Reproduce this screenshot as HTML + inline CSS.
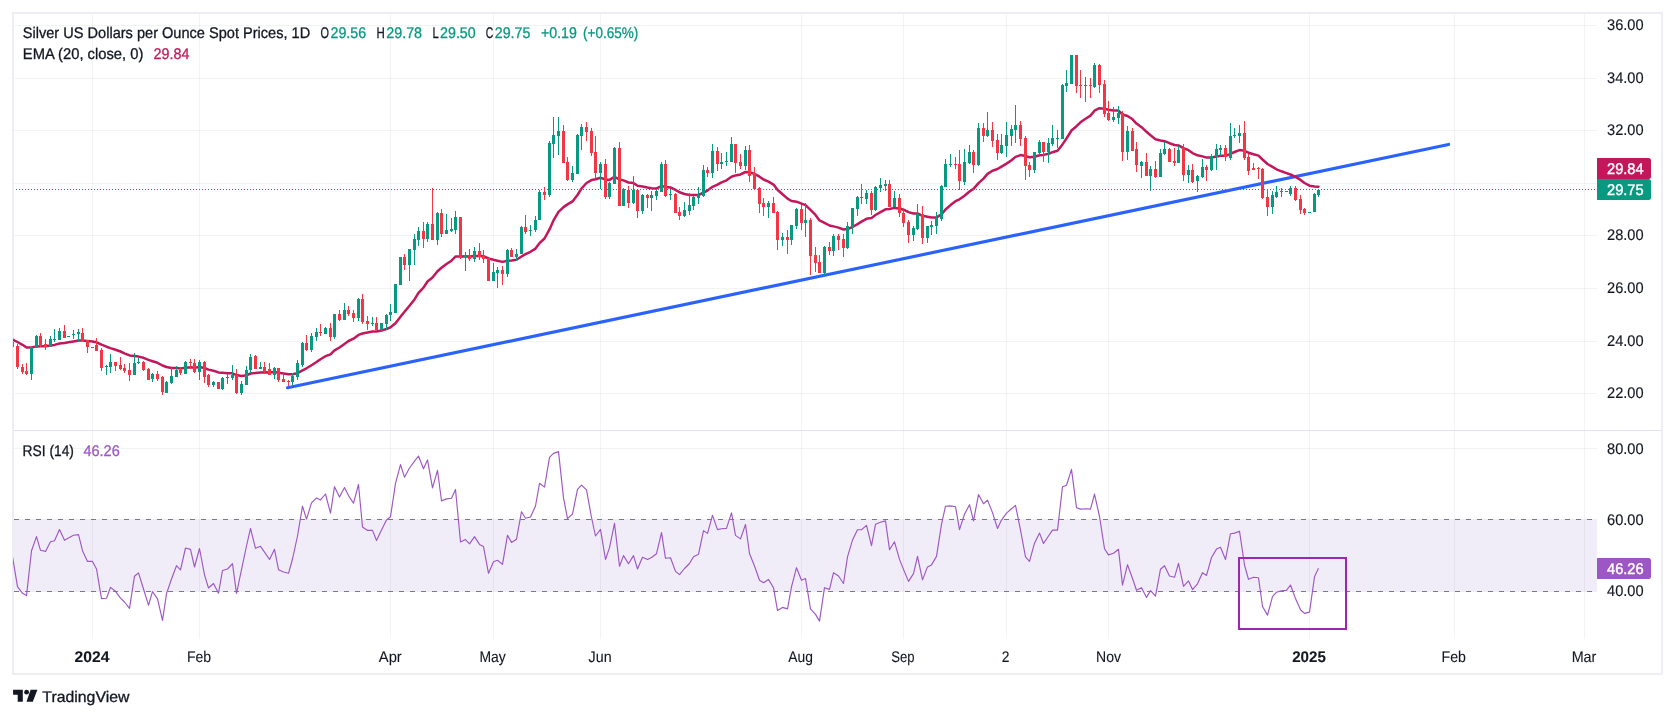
<!DOCTYPE html>
<html><head><meta charset="utf-8"><title>Silver chart</title>
<style>
html,body{margin:0;padding:0;background:#fff;}
body{width:1675px;height:718px;overflow:hidden;font-family:"Liberation Sans",sans-serif;}
svg{display:block;will-change:transform;}
text{font-family:"Liberation Sans",sans-serif;}
</style></head><body>
<svg width="1675" height="718" viewBox="0 0 1675 718" text-rendering="geometricPrecision">
<rect x="0" y="0" width="1675" height="718" fill="#ffffff"/>

<defs><clipPath id="plot"><rect x="14" y="14" width="1583" height="625"/></clipPath><clipPath id="main"><rect x="13" y="14" width="1584" height="416"/></clipPath><clipPath id="rsi"><rect x="13" y="431" width="1584" height="208"/></clipPath></defs>
<rect x="13" y="13" width="1649" height="661" fill="none" stroke="#eceef3" stroke-width="2" shape-rendering="crispEdges"/>
<rect x="14" y="519" width="1583" height="73" fill="#f1edf8" shape-rendering="crispEdges"/>
<path d="M92 14h1v625h-1zM199 14h1v625h-1zM390 14h1v625h-1zM493 14h1v625h-1zM600 14h1v625h-1zM801 14h1v625h-1zM903 14h1v625h-1zM1006 14h1v625h-1zM1108 14h1v625h-1zM1309 14h1v625h-1zM1454 14h1v625h-1zM1584 14h1v625h-1z" fill="#2a2e39" fill-opacity="0.06" shape-rendering="crispEdges"/>
<path d="M14 25h1583v1h-1583zM14 78h1583v1h-1583zM14 130h1583v1h-1583zM14 183h1583v1h-1583zM14 235h1583v1h-1583zM14 288h1583v1h-1583zM14 341h1583v1h-1583zM14 393h1583v1h-1583zM14 448h1583v1h-1583z" fill="#2a2e39" fill-opacity="0.06" shape-rendering="crispEdges"/>
<line x1="14" y1="519.5" x2="1597" y2="519.5" stroke="#787b86" stroke-width="1" stroke-dasharray="5 6" shape-rendering="crispEdges"/>
<line x1="14" y1="591.5" x2="1597" y2="591.5" stroke="#787b86" stroke-width="1" stroke-dasharray="5 6" shape-rendering="crispEdges"/>
<rect x="14" y="430" width="1647" height="1" fill="#e0e3eb" shape-rendering="crispEdges"/>
<line x1="287.5" y1="387.8" x2="1448.6" y2="144.4" stroke="#2962ff" stroke-width="3.1" stroke-linecap="round"/>
<polyline clip-path="url(#main)" points="12.5,339.5 17.5,342.0 22.5,344.8 26.5,347.6 31.5,347.5 36.5,346.4 40.5,346.3 45.5,346.3 50.5,345.6 54.5,344.9 59.5,343.5 64.5,343.0 68.5,342.3 73.5,341.4 78.5,340.5 82.5,340.5 87.5,341.0 92.5,341.5 96.5,342.3 101.5,344.7 106.5,346.7 110.5,348.1 115.5,349.7 120.5,351.5 124.5,353.3 129.5,355.4 134.5,356.0 138.5,356.6 143.5,357.8 148.5,359.9 152.5,361.2 157.5,362.8 162.5,365.5 166.5,367.0 171.5,367.9 176.5,368.0 180.5,368.4 185.5,367.8 190.5,367.3 194.5,367.7 199.5,367.1 204.5,368.0 208.5,369.6 213.5,370.7 218.5,372.4 222.5,372.8 227.5,373.2 232.5,373.3 236.5,375.1 241.5,375.9 246.5,375.3 250.5,373.5 255.5,373.0 260.5,372.4 264.5,372.2 269.5,372.4 274.5,371.9 278.5,372.7 283.5,373.5 288.5,374.2 292.5,374.3 297.5,373.2 302.5,370.3 306.5,368.3 311.5,365.2 316.5,362.0 320.5,359.2 325.5,356.2 330.5,354.3 334.5,350.4 339.5,347.5 344.5,343.9 348.5,341.0 353.5,338.7 358.5,334.9 362.5,333.5 367.5,332.6 372.5,331.6 376.5,331.4 381.5,330.5 386.5,329.0 390.5,327.3 395.5,323.2 400.5,316.8 404.5,311.8 409.5,305.8 414.5,299.4 418.5,292.9 423.5,287.6 427.5,281.5 432.5,277.5 437.5,271.3 441.5,267.7 446.5,264.0 451.5,260.7 455.5,256.5 460.5,256.5 465.5,256.3 469.5,256.5 474.5,256.0 479.5,256.0 483.5,256.2 488.5,258.5 493.5,259.8 497.5,260.7 502.5,261.9 507.5,260.7 511.5,260.4 516.5,259.7 521.5,256.5 525.5,254.1 530.5,251.8 535.5,248.6 539.5,243.2 544.5,238.5 549.5,229.4 553.5,220.4 558.5,211.8 563.5,207.1 567.5,204.4 572.5,201.4 577.5,195.0 581.5,188.5 586.5,183.0 591.5,180.1 595.5,179.3 600.5,177.8 605.5,179.6 609.5,179.9 614.5,176.8 619.5,179.5 623.5,180.4 628.5,182.5 633.5,183.1 637.5,185.7 642.5,186.5 647.5,187.5 651.5,188.2 656.5,188.4 661.5,186.1 665.5,186.9 670.5,187.5 675.5,189.9 679.5,192.3 684.5,194.0 689.5,195.0 693.5,195.1 698.5,195.0 703.5,192.6 707.5,190.6 712.5,186.8 717.5,184.6 721.5,182.4 726.5,180.3 731.5,176.8 735.5,175.4 740.5,174.4 745.5,172.0 749.5,172.3 754.5,173.9 759.5,176.7 763.5,179.5 768.5,181.7 773.5,184.6 777.5,189.8 782.5,194.3 787.5,198.6 791.5,201.0 796.5,201.7 801.5,203.7 805.5,205.2 810.5,209.9 815.5,214.9 819.5,220.4 824.5,222.8 829.5,225.5 833.5,226.4 838.5,227.6 843.5,229.5 847.5,229.1 852.5,227.0 857.5,224.1 861.5,221.6 866.5,218.8 871.5,217.9 875.5,215.0 880.5,212.1 885.5,209.3 889.5,209.0 894.5,207.9 899.5,208.4 903.5,209.7 908.5,212.1 913.5,213.5 917.5,213.5 922.5,215.8 927.5,216.7 931.5,217.4 936.5,217.4 941.5,214.4 945.5,209.5 950.5,205.1 955.5,201.2 959.5,199.3 964.5,195.7 969.5,191.5 973.5,188.9 978.5,183.1 983.5,178.6 987.5,173.9 992.5,170.7 997.5,169.0 1001.5,166.6 1006.5,163.6 1011.5,160.3 1015.5,156.9 1020.5,155.1 1025.5,156.1 1029.5,157.3 1034.5,156.8 1039.5,155.3 1043.5,154.9 1048.5,153.8 1052.5,152.2 1057.5,150.8 1062.5,144.4 1066.5,138.5 1071.5,130.5 1076.5,126.2 1080.5,122.3 1085.5,118.7 1090.5,115.6 1094.5,110.7 1099.5,108.2 1104.5,108.7 1108.5,109.7 1113.5,110.4 1118.5,110.6 1122.5,114.5 1127.5,116.0 1132.5,119.3 1136.5,123.6 1141.5,127.2 1146.5,131.8 1150.5,135.3 1155.5,139.2 1160.5,140.5 1164.5,141.2 1169.5,143.2 1174.5,145.0 1178.5,145.4 1183.5,148.2 1188.5,150.2 1192.5,153.1 1197.5,155.3 1202.5,156.4 1206.5,157.6 1211.5,157.4 1216.5,156.6 1220.5,155.7 1225.5,155.8 1230.5,153.8 1234.5,152.0 1239.5,150.1 1244.5,150.8 1248.5,152.7 1253.5,154.2 1258.5,155.6 1262.5,159.5 1267.5,164.0 1272.5,166.9 1276.5,169.3 1281.5,171.3 1286.5,173.1 1290.5,174.5 1295.5,176.9 1300.5,179.9 1304.5,183.0 1309.5,185.7 1314.5,186.4 1318.5,186.7" fill="none" stroke="#c2185b" stroke-width="2.5" stroke-linejoin="round" stroke-linecap="round"/>
<g clip-path="url(#main)" shape-rendering="crispEdges"><path d="M12 342h1v5h-1zM11 342h3v5h-3zM17 344h1v25h-1zM16 346h3v21h-3zM22 364h1v10h-1zM21 367h3v5h-3zM26 363h1v12h-1zM25 371h3v3h-3zM40 333h1v14h-1zM39 336h3v10h-3zM45 339h1v11h-1zM44 344h3v3h-3zM64 325h1v13h-1zM63 331h3v7h-3zM82 328h1v13h-1zM81 333h3v8h-3zM87 340h1v13h-1zM86 340h3v7h-3zM96 338h1v13h-1zM95 345h3v6h-3zM101 348h1v23h-1zM100 350h3v18h-3zM115 362h1v9h-1zM114 362h3v4h-3zM120 357h1v13h-1zM119 365h3v4h-3zM124 364h1v9h-1zM123 368h3v3h-3zM129 363h1v18h-1zM128 370h3v5h-3zM143 361h1v10h-1zM142 362h3v8h-3zM148 368h1v12h-1zM147 369h3v11h-3zM157 371h1v10h-1zM156 374h3v5h-3zM162 376h1v19h-1zM161 377h3v15h-3zM180 368h1v7h-1zM179 370h3v3h-3zM190 359h1v10h-1zM189 362h3v1h-3zM194 359h1v14h-1zM193 363h3v9h-3zM204 361h1v22h-1zM203 362h3v15h-3zM208 374h1v13h-1zM207 375h3v10h-3zM218 382h1v7h-1zM217 382h3v7h-3zM236 369h1v25h-1zM235 375h3v18h-3zM255 355h1v14h-1zM254 356h3v13h-3zM264 362h1v12h-1zM263 367h3v5h-3zM269 363h1v12h-1zM268 369h3v6h-3zM278 368h1v14h-1zM277 368h3v12h-3zM283 375h1v7h-1zM282 379h3v3h-3zM288 380h1v6h-1zM287 381h3v1h-3zM306 335h1v16h-1zM305 343h3v7h-3zM320 324h1v12h-1zM319 332h3v1h-3zM330 323h1v18h-1zM329 328h3v9h-3zM339 310h1v11h-1zM338 314h3v6h-3zM348 306h1v10h-1zM347 310h3v4h-3zM353 310h1v12h-1zM352 313h3v5h-3zM362 294h1v30h-1zM361 299h3v23h-3zM367 316h1v14h-1zM366 321h3v3h-3zM376 317h1v13h-1zM375 323h3v7h-3zM404 254h1v16h-1zM403 257h3v8h-3zM423 222h1v26h-1zM422 231h3v8h-3zM432 188h1v52h-1zM431 224h3v16h-3zM441 209h1v28h-1zM440 213h3v21h-3zM460 217h1v42h-1zM459 217h3v41h-3zM469 249h1v12h-1zM468 255h3v4h-3zM479 243h1v17h-1zM478 251h3v6h-3zM483 250h1v13h-1zM482 256h3v3h-3zM488 258h1v23h-1zM487 258h3v23h-3zM502 266h1v19h-1zM501 270h3v4h-3zM511 248h1v9h-1zM510 250h3v7h-3zM525 215h1v19h-1zM524 227h3v5h-3zM544 187h1v13h-1zM543 192h3v3h-3zM563 125h1v38h-1zM562 131h3v32h-3zM567 157h1v24h-1zM566 162h3v18h-3zM586 122h1v19h-1zM585 127h3v5h-3zM591 128h1v28h-1zM590 131h3v22h-3zM595 136h1v42h-1zM594 152h3v21h-3zM605 159h1v40h-1zM604 164h3v33h-3zM619 142h1v64h-1zM618 148h3v58h-3zM628 186h1v22h-1zM627 190h3v13h-3zM637 190h1v28h-1zM636 190h3v21h-3zM647 194h1v14h-1zM646 195h3v3h-3zM665 160h1v37h-1zM664 164h3v32h-3zM675 193h1v20h-1zM674 194h3v19h-3zM679 207h1v13h-1zM678 212h3v4h-3zM707 167h1v10h-1zM706 170h3v3h-3zM717 147h1v24h-1zM716 151h3v13h-3zM735 144h1v29h-1zM734 144h3v19h-3zM740 154h1v15h-1zM739 162h3v4h-3zM749 145h1v37h-1zM748 150h3v26h-3zM754 167h1v22h-1zM753 173h3v16h-3zM759 187h1v26h-1zM758 188h3v16h-3zM763 198h1v18h-1zM762 203h3v4h-3zM773 197h1v16h-1zM772 203h3v10h-3zM777 211h1v39h-1zM776 212h3v28h-3zM787 230h1v24h-1zM786 237h3v3h-3zM801 205h1v25h-1zM800 209h3v14h-3zM810 218h1v57h-1zM809 220h3v36h-3zM815 247h1v25h-1zM814 255h3v8h-3zM819 255h1v18h-1zM818 262h3v11h-3zM829 242h1v13h-1zM828 247h3v4h-3zM838 234h1v16h-1zM837 236h3v4h-3zM843 234h1v23h-1zM842 239h3v9h-3zM861 184h1v20h-1zM860 197h3v1h-3zM871 191h1v24h-1zM870 193h3v17h-3zM889 180h1v27h-1zM888 184h3v23h-3zM899 194h1v23h-1zM898 198h3v15h-3zM903 210h1v17h-1zM902 213h3v10h-3zM908 220h1v23h-1zM907 222h3v13h-3zM922 206h1v38h-1zM921 214h3v24h-3zM955 157h1v12h-1zM954 164h3v1h-3zM959 150h1v40h-1zM958 164h3v17h-3zM973 150h1v23h-1zM972 152h3v13h-3zM983 123h1v19h-1zM982 128h3v8h-3zM992 122h1v25h-1zM991 130h3v11h-3zM997 134h1v26h-1zM996 140h3v13h-3zM1020 121h1v25h-1zM1019 125h3v14h-3zM1025 136h1v44h-1zM1024 138h3v28h-3zM1029 162h1v15h-1zM1028 165h3v5h-3zM1043 142h1v20h-1zM1042 142h3v10h-3zM1076 55h1v38h-1zM1075 55h3v31h-3zM1080 70h1v28h-1zM1079 85h3v1h-3zM1090 78h1v20h-1zM1089 85h3v1h-3zM1099 64h1v29h-1zM1098 65h3v20h-3zM1104 80h1v37h-1zM1103 84h3v30h-3zM1108 101h1v20h-1zM1107 113h3v7h-3zM1122 111h1v50h-1zM1121 113h3v39h-3zM1132 128h1v23h-1zM1131 131h3v20h-3zM1136 142h1v30h-1zM1135 149h3v16h-3zM1146 153h1v23h-1zM1145 162h3v14h-3zM1155 161h1v17h-1zM1154 169h3v8h-3zM1169 148h1v14h-1zM1168 149h3v13h-3zM1174 148h1v18h-1zM1173 161h3v2h-3zM1183 144h1v37h-1zM1182 148h3v27h-3zM1192 164h1v19h-1zM1191 170h3v12h-3zM1206 165h1v16h-1zM1205 167h3v3h-3zM1225 145h1v16h-1zM1224 148h3v9h-3zM1244 121h1v39h-1zM1243 133h3v25h-3zM1248 154h1v21h-1zM1247 157h3v14h-3zM1253 163h1v7h-1zM1252 168h3v2h-3zM1258 167h1v12h-1zM1257 168h3v1h-3zM1262 168h1v31h-1zM1261 169h3v29h-3zM1267 190h1v26h-1zM1266 197h3v10h-3zM1295 186h1v15h-1zM1294 188h3v12h-3zM1300 195h1v19h-1zM1299 199h3v11h-3zM1304 208h1v7h-1zM1303 209h3v4h-3z" fill="#f23645"/><path d="M31 347h1v33h-1zM30 347h3v27h-3zM36 335h1v13h-1zM35 336h3v12h-3zM50 336h1v11h-1zM49 339h3v8h-3zM54 329h1v13h-1zM53 339h3v1h-3zM59 328h1v12h-1zM58 331h3v9h-3zM67 336h3v1h-3zM73 330h1v9h-1zM72 334h3v1h-3zM78 329h1v13h-1zM77 332h3v2h-3zM91 347h3v1h-3zM106 365h1v10h-1zM105 366h3v1h-3zM110 354h1v19h-1zM109 362h3v5h-3zM134 353h1v22h-1zM133 363h3v12h-3zM138 358h1v6h-1zM137 362h3v1h-3zM152 373h1v9h-1zM151 374h3v5h-3zM166 381h1v12h-1zM165 382h3v11h-3zM171 368h1v16h-1zM170 376h3v7h-3zM176 366h1v11h-1zM175 370h3v7h-3zM185 361h1v13h-1zM184 362h3v12h-3zM199 360h1v20h-1zM198 362h3v10h-3zM213 381h1v6h-1zM212 382h3v3h-3zM222 377h1v13h-1zM221 378h3v11h-3zM227 374h1v10h-1zM226 377h3v1h-3zM232 365h1v15h-1zM231 375h3v3h-3zM241 381h1v14h-1zM240 384h3v9h-3zM246 366h1v19h-1zM245 370h3v15h-3zM250 354h1v19h-1zM249 357h3v13h-3zM260 362h1v7h-1zM259 367h3v2h-3zM274 367h1v12h-1zM273 368h3v7h-3zM292 373h1v12h-1zM291 376h3v6h-3zM297 360h1v20h-1zM296 363h3v14h-3zM302 342h1v25h-1zM301 343h3v22h-3zM311 333h1v19h-1zM310 336h3v14h-3zM316 328h1v13h-1zM315 332h3v5h-3zM325 327h1v7h-1zM324 328h3v6h-3zM334 314h1v25h-1zM333 314h3v23h-3zM344 303h1v17h-1zM343 310h3v10h-3zM358 298h1v23h-1zM357 299h3v19h-3zM372 317h1v9h-1zM371 323h3v1h-3zM381 323h1v9h-1zM380 323h3v7h-3zM386 314h1v16h-1zM385 315h3v9h-3zM390 304h1v17h-1zM389 312h3v3h-3zM395 284h1v29h-1zM394 284h3v29h-3zM400 257h1v28h-1zM399 257h3v28h-3zM409 249h1v32h-1zM408 249h3v16h-3zM414 234h1v31h-1zM413 239h3v11h-3zM418 227h1v19h-1zM417 231h3v9h-3zM427 222h1v20h-1zM426 224h3v15h-3zM437 212h1v33h-1zM436 213h3v27h-3zM446 214h1v20h-1zM445 230h3v4h-3zM451 218h1v14h-1zM450 229h3v2h-3zM455 211h1v23h-1zM454 217h3v13h-3zM465 252h1v19h-1zM464 255h3v3h-3zM474 247h1v15h-1zM473 251h3v8h-3zM493 263h1v18h-1zM492 272h3v9h-3zM497 267h1v21h-1zM496 270h3v3h-3zM507 249h1v28h-1zM506 250h3v24h-3zM516 249h1v12h-1zM515 254h3v3h-3zM521 226h1v28h-1zM520 227h3v27h-3zM530 225h1v11h-1zM529 230h3v1h-3zM535 216h1v16h-1zM534 220h3v10h-3zM539 190h1v30h-1zM538 192h3v28h-3zM549 141h1v56h-1zM548 143h3v52h-3zM553 117h1v41h-1zM552 135h3v9h-3zM558 117h1v38h-1zM557 131h3v5h-3zM572 166h1v16h-1zM571 173h3v7h-3zM577 134h1v40h-1zM576 135h3v39h-3zM581 124h1v26h-1zM580 127h3v9h-3zM600 162h1v27h-1zM599 164h3v9h-3zM609 182h1v17h-1zM608 183h3v14h-3zM614 147h1v37h-1zM613 148h3v36h-3zM623 188h1v18h-1zM622 189h3v17h-3zM633 176h1v28h-1zM632 190h3v13h-3zM642 194h1v20h-1zM641 195h3v16h-3zM651 191h1v20h-1zM650 195h3v3h-3zM656 189h1v11h-1zM655 191h3v5h-3zM661 162h1v30h-1zM660 164h3v28h-3zM670 189h1v11h-1zM669 194h3v1h-3zM684 202h1v15h-1zM683 210h3v6h-3zM689 193h1v22h-1zM688 205h3v6h-3zM693 196h1v14h-1zM692 197h3v9h-3zM698 187h1v17h-1zM697 195h3v3h-3zM703 165h1v32h-1zM702 170h3v26h-3zM712 144h1v34h-1zM711 151h3v22h-3zM721 153h1v16h-1zM720 162h3v2h-3zM726 152h1v14h-1zM725 161h3v1h-3zM731 137h1v25h-1zM730 144h3v18h-3zM745 146h1v24h-1zM744 150h3v16h-3zM768 201h1v17h-1zM767 203h3v4h-3zM782 233h1v13h-1zM781 237h3v3h-3zM791 225h1v20h-1zM790 225h3v15h-3zM796 208h1v21h-1zM795 209h3v17h-3zM805 203h1v34h-1zM804 220h3v3h-3zM824 246h1v30h-1zM823 247h3v26h-3zM833 234h1v22h-1zM832 236h3v15h-3zM847 222h1v27h-1zM846 226h3v22h-3zM852 208h1v26h-1zM851 208h3v19h-3zM857 196h1v20h-1zM856 197h3v12h-3zM866 190h1v14h-1zM865 193h3v6h-3zM875 186h1v25h-1zM874 187h3v23h-3zM880 178h1v14h-1zM879 185h3v3h-3zM885 180h1v11h-1zM884 184h3v2h-3zM894 191h1v16h-1zM893 198h3v9h-3zM913 226h1v15h-1zM912 228h3v7h-3zM917 204h1v26h-1zM916 214h3v15h-3zM927 226h1v17h-1zM926 226h3v12h-3zM931 221h1v14h-1zM930 225h3v2h-3zM936 212h1v22h-1zM935 218h3v8h-3zM941 185h1v36h-1zM940 186h3v33h-3zM945 159h1v28h-1zM944 164h3v23h-3zM950 154h1v13h-1zM949 164h3v1h-3zM964 149h1v36h-1zM963 162h3v20h-3zM969 145h1v19h-1zM968 152h3v11h-3zM978 123h1v43h-1zM977 128h3v37h-3zM987 112h1v25h-1zM986 130h3v6h-3zM1001 134h1v20h-1zM1000 145h3v8h-3zM1006 122h1v35h-1zM1005 135h3v11h-3zM1011 125h1v21h-1zM1010 129h3v7h-3zM1015 105h1v38h-1zM1014 125h3v5h-3zM1034 152h1v21h-1zM1033 152h3v18h-3zM1039 140h1v15h-1zM1038 142h3v11h-3zM1048 138h1v25h-1zM1047 143h3v9h-3zM1052 125h1v21h-1zM1051 138h3v6h-3zM1057 130h1v18h-1zM1056 138h3v1h-3zM1062 84h1v55h-1zM1061 85h3v54h-3zM1066 70h1v22h-1zM1065 83h3v3h-3zM1071 55h1v29h-1zM1070 55h3v29h-3zM1085 77h1v25h-1zM1084 85h3v1h-3zM1094 63h1v25h-1zM1093 65h3v22h-3zM1113 107h1v15h-1zM1112 117h3v3h-3zM1118 106h1v18h-1zM1117 113h3v5h-3zM1127 126h1v34h-1zM1126 131h3v21h-3zM1141 161h1v17h-1zM1140 162h3v4h-3zM1150 166h1v25h-1zM1149 169h3v7h-3zM1160 149h1v28h-1zM1159 153h3v24h-3zM1164 142h1v13h-1zM1163 149h3v5h-3zM1178 146h1v17h-1zM1177 150h3v13h-3zM1188 165h1v18h-1zM1187 170h3v5h-3zM1197 175h1v17h-1zM1196 176h3v5h-3zM1202 159h1v19h-1zM1201 167h3v10h-3zM1211 154h1v17h-1zM1210 156h3v14h-3zM1216 144h1v26h-1zM1215 149h3v8h-3zM1220 145h1v11h-1zM1219 148h3v2h-3zM1230 123h1v37h-1zM1229 136h3v22h-3zM1234 128h1v10h-1zM1233 135h3v1h-3zM1239 125h1v18h-1zM1238 133h3v3h-3zM1272 191h1v23h-1zM1271 195h3v12h-3zM1276 186h1v12h-1zM1275 192h3v5h-3zM1281 188h1v9h-1zM1280 191h3v1h-3zM1285 191h3v1h-3zM1290 186h1v10h-1zM1289 188h3v6h-3zM1308 212h3v1h-3zM1314 193h1v19h-1zM1313 194h3v18h-3zM1318 189h1v8h-1zM1317 190h3v5h-3z" fill="#089981"/></g>
<line x1="16" y1="189.5" x2="1597" y2="189.5" stroke="#089981" stroke-width="1" stroke-dasharray="1 2" shape-rendering="crispEdges"/>
<polyline clip-path="url(#rsi)" points="12.5,556.8 17.5,586.7 22.5,593.3 26.5,595.6 31.5,550.7 36.5,536.6 40.5,550.3 45.5,551.4 50.5,541.8 54.5,540.7 59.5,529.5 64.5,540.2 68.5,538.1 73.5,535.3 78.5,534.6 82.5,550.7 87.5,561.4 92.5,561.4 96.5,569.0 101.5,598.6 106.5,598.3 110.5,587.4 115.5,591.3 120.5,598.2 124.5,602.0 129.5,608.4 134.5,576.2 138.5,572.9 143.5,589.0 148.5,605.1 152.5,591.7 157.5,598.9 162.5,620.4 166.5,593.6 171.5,579.0 176.5,565.7 180.5,569.8 185.5,548.0 190.5,549.4 194.5,567.0 199.5,548.5 204.5,574.8 208.5,588.0 213.5,583.5 218.5,593.2 222.5,570.5 227.5,569.0 232.5,563.6 236.5,593.5 241.5,569.7 246.5,546.0 250.5,528.4 255.5,548.3 260.5,546.3 264.5,552.1 269.5,559.5 274.5,549.3 278.5,569.7 283.5,572.0 288.5,573.3 292.5,559.0 297.5,536.0 302.5,506.2 306.5,519.1 311.5,502.9 316.5,497.9 320.5,499.9 325.5,494.0 330.5,513.2 334.5,486.7 339.5,497.1 344.5,487.6 348.5,495.6 353.5,503.2 358.5,484.5 362.5,527.0 367.5,530.4 372.5,530.4 376.5,540.5 381.5,530.0 386.5,520.0 390.5,516.7 395.5,483.3 400.5,464.6 404.5,477.2 409.5,468.0 414.5,461.1 418.5,456.0 423.5,468.8 427.5,459.9 432.5,487.9 437.5,470.3 441.5,500.9 446.5,498.9 451.5,498.2 455.5,489.4 460.5,542.0 465.5,539.6 469.5,543.9 474.5,536.6 479.5,544.4 483.5,546.6 488.5,573.3 493.5,561.7 497.5,560.3 502.5,564.4 507.5,535.2 511.5,542.4 516.5,539.2 521.5,511.7 525.5,518.3 530.5,517.0 535.5,506.0 539.5,483.3 544.5,487.1 549.5,457.3 553.5,453.4 558.5,451.6 563.5,497.9 567.5,518.6 572.5,514.0 577.5,489.4 581.5,485.2 586.5,489.8 591.5,517.5 595.5,536.0 600.5,529.4 605.5,559.5 609.5,547.6 614.5,523.3 619.5,566.3 623.5,555.6 628.5,563.7 633.5,555.6 637.5,569.0 642.5,557.2 647.5,559.5 651.5,557.5 656.5,553.7 661.5,532.6 665.5,558.3 670.5,557.8 675.5,571.4 679.5,574.6 684.5,568.5 689.5,563.5 693.5,556.8 698.5,554.3 703.5,530.6 707.5,533.4 712.5,515.4 717.5,529.6 721.5,528.7 726.5,528.4 731.5,512.9 735.5,535.4 740.5,538.9 745.5,524.5 749.5,553.5 754.5,566.0 759.5,580.2 763.5,582.7 768.5,579.4 773.5,587.7 777.5,610.6 782.5,607.4 787.5,608.9 791.5,586.9 796.5,567.7 801.5,580.2 805.5,578.5 810.5,608.9 815.5,614.4 819.5,621.1 824.5,587.7 829.5,589.4 833.5,572.7 838.5,576.0 843.5,583.5 847.5,556.8 852.5,540.1 857.5,529.7 861.5,529.7 866.5,525.4 871.5,545.7 875.5,524.3 880.5,522.3 885.5,520.9 889.5,549.7 894.5,541.8 899.5,559.4 903.5,569.4 908.5,581.4 913.5,573.6 917.5,556.4 922.5,579.9 927.5,566.9 931.5,564.9 936.5,556.4 941.5,524.3 945.5,506.2 950.5,505.9 955.5,506.7 959.5,529.6 964.5,514.3 969.5,504.7 973.5,520.9 978.5,494.5 983.5,503.7 987.5,500.1 992.5,512.6 997.5,528.5 1001.5,520.1 1006.5,513.1 1011.5,508.7 1015.5,505.4 1020.5,530.1 1025.5,556.9 1029.5,561.4 1034.5,543.2 1039.5,533.1 1043.5,543.5 1048.5,536.0 1052.5,530.1 1057.5,530.1 1062.5,486.7 1066.5,485.3 1071.5,469.4 1076.5,507.8 1080.5,509.1 1085.5,508.7 1090.5,509.1 1094.5,494.1 1099.5,516.5 1104.5,548.7 1108.5,554.9 1113.5,553.2 1118.5,549.3 1122.5,585.1 1127.5,564.7 1132.5,578.5 1136.5,590.2 1141.5,587.7 1146.5,597.4 1150.5,590.6 1155.5,596.1 1160.5,569.2 1164.5,565.7 1169.5,576.0 1174.5,577.3 1178.5,563.3 1183.5,586.3 1188.5,580.9 1192.5,589.6 1197.5,583.8 1202.5,572.7 1206.5,575.4 1211.5,557.5 1216.5,549.1 1220.5,547.3 1225.5,559.5 1230.5,533.7 1234.5,533.1 1239.5,531.2 1244.5,565.0 1248.5,579.3 1253.5,577.2 1258.5,577.8 1262.5,606.5 1267.5,615.1 1272.5,596.6 1276.5,592.2 1281.5,590.7 1286.5,590.4 1290.5,585.0 1295.5,598.6 1300.5,609.8 1304.5,613.4 1309.5,612.1 1314.5,576.8 1318.5,568.2" fill="none" stroke="#9d57c5" stroke-width="1.15" stroke-linejoin="round"/>
<rect x="1239" y="558" width="107" height="71" fill="none" stroke="#9c27b0" stroke-width="2" shape-rendering="crispEdges"/>
<text x="22.8" y="38.0" font-size="15.4" fill="#131722" font-weight="normal" text-anchor="start" stroke="#131722" stroke-width="0.3" textLength="287.4" lengthAdjust="spacingAndGlyphs">Silver US Dollars per Ounce Spot Prices, 1D</text>
<text x="320.5" y="38.0" font-size="15.4" fill="#131722" font-weight="normal" text-anchor="start" stroke="#131722" stroke-width="0.3" textLength="8.5" lengthAdjust="spacingAndGlyphs">O</text>
<text x="330.5" y="38.0" font-size="15.4" fill="#089981" font-weight="normal" text-anchor="start" stroke="#089981" stroke-width="0.3" textLength="35.6" lengthAdjust="spacingAndGlyphs">29.56</text>
<text x="376.6" y="38.0" font-size="15.4" fill="#131722" font-weight="normal" text-anchor="start" stroke="#131722" stroke-width="0.3" textLength="8.3" lengthAdjust="spacingAndGlyphs">H</text>
<text x="386.2" y="38.0" font-size="15.4" fill="#089981" font-weight="normal" text-anchor="start" stroke="#089981" stroke-width="0.3" textLength="35.9" lengthAdjust="spacingAndGlyphs">29.78</text>
<text x="432.6" y="38.0" font-size="15.4" fill="#131722" font-weight="normal" text-anchor="start" stroke="#131722" stroke-width="0.3" textLength="6.3" lengthAdjust="spacingAndGlyphs">L</text>
<text x="440.1" y="38.0" font-size="15.4" fill="#089981" font-weight="normal" text-anchor="start" stroke="#089981" stroke-width="0.3" textLength="35.6" lengthAdjust="spacingAndGlyphs">29.50</text>
<text x="485.8" y="38.0" font-size="15.4" fill="#131722" font-weight="normal" text-anchor="start" stroke="#131722" stroke-width="0.3" textLength="7.5" lengthAdjust="spacingAndGlyphs">C</text>
<text x="494.8" y="38.0" font-size="15.4" fill="#089981" font-weight="normal" text-anchor="start" stroke="#089981" stroke-width="0.3" textLength="35.6" lengthAdjust="spacingAndGlyphs">29.75</text>
<text x="540.9" y="38.0" font-size="15.4" fill="#089981" font-weight="normal" text-anchor="start" stroke="#089981" stroke-width="0.3" textLength="35.9" lengthAdjust="spacingAndGlyphs">+0.19</text>
<text x="583.0" y="38.0" font-size="15.4" fill="#089981" font-weight="normal" text-anchor="start" stroke="#089981" stroke-width="0.3" textLength="55.2" lengthAdjust="spacingAndGlyphs">(+0.65%)</text>
<text x="22.8" y="59.0" font-size="15.4" fill="#131722" font-weight="normal" text-anchor="start" stroke="#131722" stroke-width="0.3" textLength="120.6" lengthAdjust="spacingAndGlyphs">EMA (20, close, 0)</text>
<text x="153.6" y="59.0" font-size="15.4" fill="#c2185b" font-weight="normal" text-anchor="start" stroke="#c2185b" stroke-width="0.3" textLength="35.8" lengthAdjust="spacingAndGlyphs">29.84</text>
<text x="22.6" y="456.0" font-size="15.4" fill="#131722" font-weight="normal" text-anchor="start" stroke="#131722" stroke-width="0.3" textLength="51.3" lengthAdjust="spacingAndGlyphs">RSI (14)</text>
<text x="83.5" y="456.0" font-size="15.4" fill="#9d57c5" font-weight="normal" text-anchor="start" stroke="#9d57c5" stroke-width="0.3" textLength="36.2" lengthAdjust="spacingAndGlyphs">46.26</text>
<text x="1607" y="30" font-size="15.4" fill="#131722" font-weight="normal" text-anchor="start" stroke="#131722" stroke-width="0.15" textLength="36.6" lengthAdjust="spacingAndGlyphs">36.00</text>
<text x="1607" y="83" font-size="15.4" fill="#131722" font-weight="normal" text-anchor="start" stroke="#131722" stroke-width="0.15" textLength="36.6" lengthAdjust="spacingAndGlyphs">34.00</text>
<text x="1607" y="135" font-size="15.4" fill="#131722" font-weight="normal" text-anchor="start" stroke="#131722" stroke-width="0.15" textLength="36.6" lengthAdjust="spacingAndGlyphs">32.00</text>
<text x="1607" y="240" font-size="15.4" fill="#131722" font-weight="normal" text-anchor="start" stroke="#131722" stroke-width="0.15" textLength="36.6" lengthAdjust="spacingAndGlyphs">28.00</text>
<text x="1607" y="293" font-size="15.4" fill="#131722" font-weight="normal" text-anchor="start" stroke="#131722" stroke-width="0.15" textLength="36.6" lengthAdjust="spacingAndGlyphs">26.00</text>
<text x="1607" y="346" font-size="15.4" fill="#131722" font-weight="normal" text-anchor="start" stroke="#131722" stroke-width="0.15" textLength="36.6" lengthAdjust="spacingAndGlyphs">24.00</text>
<text x="1607" y="398" font-size="15.4" fill="#131722" font-weight="normal" text-anchor="start" stroke="#131722" stroke-width="0.15" textLength="36.6" lengthAdjust="spacingAndGlyphs">22.00</text>
<text x="1607" y="454" font-size="15.4" fill="#131722" font-weight="normal" text-anchor="start" stroke="#131722" stroke-width="0.15" textLength="36.6" lengthAdjust="spacingAndGlyphs">80.00</text>
<text x="1607" y="525" font-size="15.4" fill="#131722" font-weight="normal" text-anchor="start" stroke="#131722" stroke-width="0.15" textLength="36.6" lengthAdjust="spacingAndGlyphs">60.00</text>
<text x="1607" y="596" font-size="15.4" fill="#131722" font-weight="normal" text-anchor="start" stroke="#131722" stroke-width="0.15" textLength="36.6" lengthAdjust="spacingAndGlyphs">40.00</text>
<path d="M1597 158H1648.5Q1651 158 1651 160.5V176.5Q1651 179 1648.5 179H1597Z" fill="#c2185b"/><text x="1607" y="174" font-size="15.4" fill="#ffffff" font-weight="normal" text-anchor="start" stroke="#ffffff" stroke-width="0.4" textLength="36.6" lengthAdjust="spacingAndGlyphs">29.84</text>
<path d="M1597 179H1648.5Q1651 179 1651 181.5V197.5Q1651 200 1648.5 200H1597Z" fill="#089981"/><text x="1607" y="195" font-size="15.4" fill="#ffffff" font-weight="normal" text-anchor="start" stroke="#ffffff" stroke-width="0.4" textLength="36.6" lengthAdjust="spacingAndGlyphs">29.75</text>
<path d="M1597 558H1648.5Q1651 558 1651 560.5V576.5Q1651 579 1648.5 579H1597Z" fill="#9d57c5"/><text x="1607" y="574" font-size="15.4" fill="#ffffff" font-weight="normal" text-anchor="start" stroke="#ffffff" stroke-width="0.4" textLength="36.6" lengthAdjust="spacingAndGlyphs">46.26</text>
<text x="92" y="662.0" font-size="15.4" fill="#131722" font-weight="bold" text-anchor="middle" stroke="#131722" stroke-width="0.1" textLength="34.9" lengthAdjust="spacingAndGlyphs">2024</text>
<text x="199" y="662.0" font-size="15.4" fill="#131722" font-weight="normal" text-anchor="middle" stroke="#131722" stroke-width="0.1" textLength="24.2" lengthAdjust="spacingAndGlyphs">Feb</text>
<text x="390.3" y="662.0" font-size="15.4" fill="#131722" font-weight="normal" text-anchor="middle" stroke="#131722" stroke-width="0.1" textLength="23.0" lengthAdjust="spacingAndGlyphs">Apr</text>
<text x="492.6" y="662.0" font-size="15.4" fill="#131722" font-weight="normal" text-anchor="middle" stroke="#131722" stroke-width="0.1" textLength="26.3" lengthAdjust="spacingAndGlyphs">May</text>
<text x="600.1" y="662.0" font-size="15.4" fill="#131722" font-weight="normal" text-anchor="middle" stroke="#131722" stroke-width="0.1" textLength="23.0" lengthAdjust="spacingAndGlyphs">Jun</text>
<text x="800.6" y="662.0" font-size="15.4" fill="#131722" font-weight="normal" text-anchor="middle" stroke="#131722" stroke-width="0.1" textLength="24.6" lengthAdjust="spacingAndGlyphs">Aug</text>
<text x="902.9" y="662.0" font-size="15.4" fill="#131722" font-weight="normal" text-anchor="middle" stroke="#131722" stroke-width="0.1" textLength="23.3" lengthAdjust="spacingAndGlyphs">Sep</text>
<text x="1005.6" y="662.0" font-size="15.4" fill="#131722" font-weight="normal" text-anchor="middle" stroke="#131722" stroke-width="0.1" textLength="7.7" lengthAdjust="spacingAndGlyphs">2</text>
<text x="1108.5" y="662.0" font-size="15.4" fill="#131722" font-weight="normal" text-anchor="middle" stroke="#131722" stroke-width="0.1" textLength="24.9" lengthAdjust="spacingAndGlyphs">Nov</text>
<text x="1309" y="662.0" font-size="15.4" fill="#131722" font-weight="bold" text-anchor="middle" stroke="#131722" stroke-width="0.1" textLength="33.7" lengthAdjust="spacingAndGlyphs">2025</text>
<text x="1453.7" y="662.0" font-size="15.4" fill="#131722" font-weight="normal" text-anchor="middle" stroke="#131722" stroke-width="0.1" textLength="24.4" lengthAdjust="spacingAndGlyphs">Feb</text>
<text x="1584" y="662.0" font-size="15.4" fill="#131722" font-weight="normal" text-anchor="middle" stroke="#131722" stroke-width="0.1" textLength="24.7" lengthAdjust="spacingAndGlyphs">Mar</text>
<g fill="#131722"><path d="M13.1 689.8H22.8V701.8H17.7V694.8H13.1Z"/><circle cx="26.6" cy="692.2" r="2.4"/><path d="M30.6 689.8H37.4L32.8 701.8H26.5Z"/></g>
<text x="42.3" y="702" font-size="15.4" fill="#131722" font-weight="normal" text-anchor="start" stroke="#131722" stroke-width="0.3" textLength="87.2" lengthAdjust="spacingAndGlyphs">TradingView</text>
</svg></body></html>
